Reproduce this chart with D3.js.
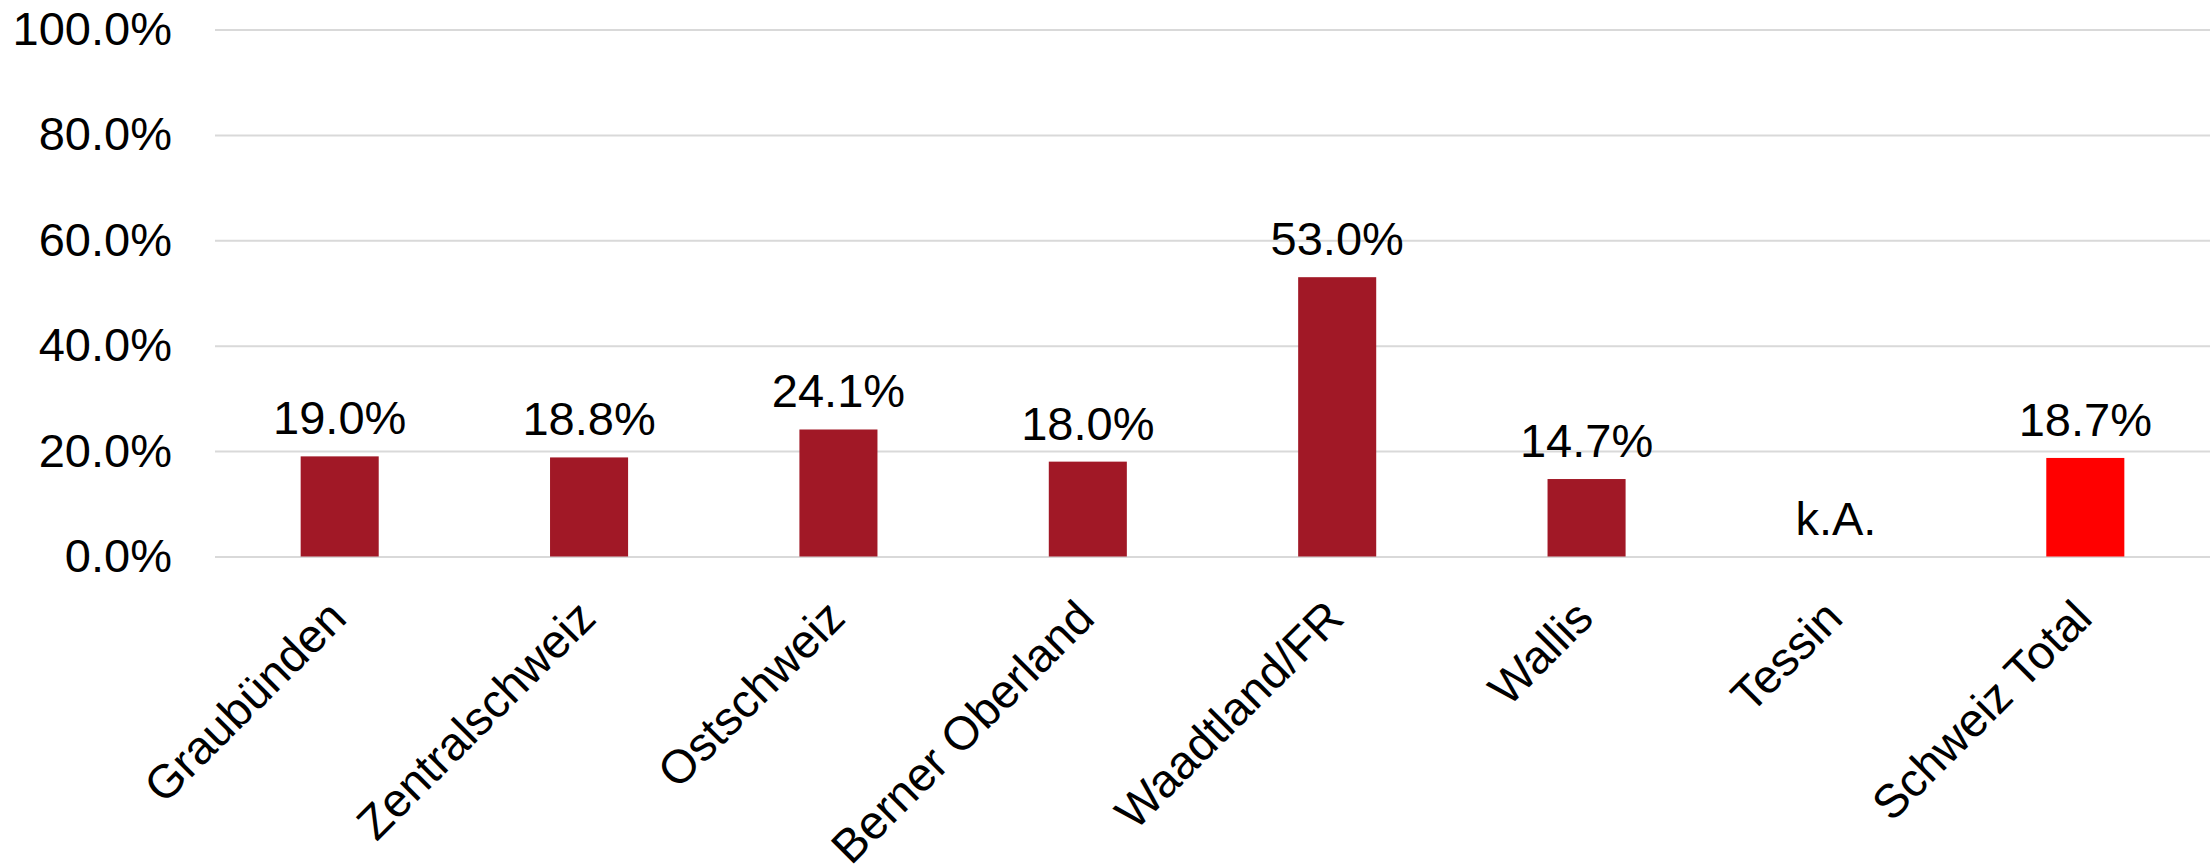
<!DOCTYPE html>
<html>
<head>
<meta charset="utf-8">
<script src="https://cdn.jsdelivr.net/npm/d3@7"></script>
<style>
  html, body { margin: 0; padding: 0; background: #fff; }
  svg text { font-family: "Liberation Sans", Arial, sans-serif; fill: #000; }
</style>
</head>
<body>
<svg id="chart" width="2211" height="864"></svg>
<script>
const categories = ["Graubünden", "Zentralschweiz", "Ostschweiz", "Berner Oberland", "Waadtland/FR", "Wallis", "Tessin", "Schweiz Total"];
const values = [0.190, 0.188, 0.241, 0.180, 0.530, 0.147, null, 0.187];
const barColors = ["#A11826", "#A11826", "#A11826", "#A11826", "#A11826", "#A11826", "#A11826", "#FF0000"];
const yTicks = [0, 0.2, 0.4, 0.6, 0.8, 1.0];
const missingLabel = "k.A.";

const svg = d3.select("#chart");
const mLeft = 215, mRight = 2210, mTop = 29.5, mBottom = 556.5;
const fs = 47;

const x = d3.scaleBand().domain(categories).range([mLeft, mRight])
  .paddingInner(0.687).paddingOuter(0.687 / 2);
const y = d3.scaleLinear().domain([0, 1]).range([mBottom, mTop]);

// grid + y axis
const yAxis = svg.append("g").attr("transform", `translate(${mLeft},0)`)
  .call(d3.axisLeft(y).tickValues(yTicks).tickFormat(d3.format(".1%"))
    .tickSize(-(mRight - mLeft)).tickPadding(43));
yAxis.select(".domain").remove();
yAxis.selectAll(".tick line").attr("stroke", "#d9d9d9").attr("stroke-width", 2);
yAxis.selectAll(".tick text").attr("font-size", fs).attr("fill", "#000")
  .attr("font-family", "'Liberation Sans', Arial, sans-serif");

// bars
const data = categories.map((c, i) => ({ c, v: values[i], col: barColors[i] }));
svg.append("g").selectAll("rect").data(data.filter(d => d.v != null)).join("rect")
  .attr("x", d => x(d.c))
  .attr("width", x.bandwidth())
  .attr("y", d => y(d.v))
  .attr("height", d => y(0) - y(d.v))
  .attr("fill", d => d.col);

// value labels
svg.append("g").selectAll("text").data(data).join("text")
  .attr("x", d => x(d.c) + x.bandwidth() / 2)
  .attr("y", d => y(d.v == null ? 0 : d.v) - 22)
  .attr("text-anchor", "middle")
  .attr("font-size", fs)
  .text(d => d.v == null ? missingLabel : d3.format(".1%")(d.v));

// x axis labels
const xAxis = svg.append("g").attr("transform", `translate(0,${mBottom})`)
  .call(d3.axisBottom(x).tickSize(0).tickPadding(0));
xAxis.select(".domain").remove();
xAxis.selectAll(".tick text")
  .attr("font-size", fs)
  .attr("fill", "#000")
  .attr("font-family", "'Liberation Sans', Arial, sans-serif")
  .attr("text-anchor", "end")
  .attr("dy", 0)
  .attr("y", 0)
  .attr("transform", "translate(9,64) rotate(-45)");
</script>
</body>
</html>
